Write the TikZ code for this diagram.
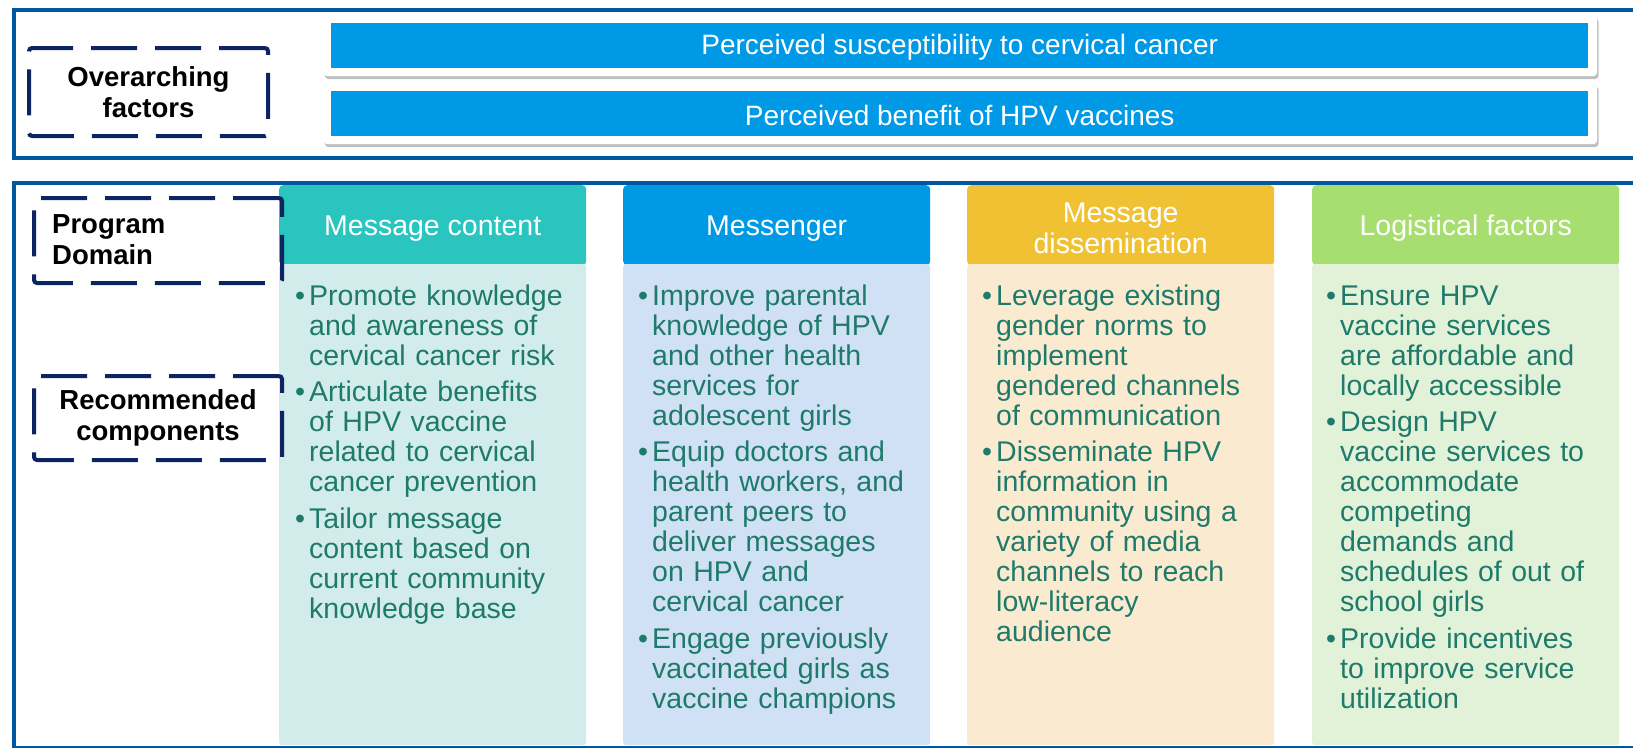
\documentclass[tikz,border=0pt]{standalone}
\usepackage{fontspec}
\setmainfont{Liberation Sans}
\usetikzlibrary{shadows}
\definecolor{frame}{RGB}{0,89,160}
\definecolor{navy}{RGB}{12,36,97}
\definecolor{barblue}{RGB}{0,153,230}
\definecolor{tealH}{RGB}{41,197,190}
\definecolor{tealB}{RGB}{210,236,235}
\definecolor{blueH}{RGB}{0,153,230}
\definecolor{blueB}{RGB}{208,224,245}
\definecolor{yelH}{RGB}{240,194,51}
\definecolor{yelB}{RGB}{250,234,207}
\definecolor{grnH}{RGB}{166,222,111}
\definecolor{grnB}{RGB}{226,242,216}
\definecolor{bodytext}{RGB}{30,122,106}
\newcommand{\bodyfont}{\fontsize{28.5pt}{30pt}\selectfont}
\newcommand{\bfirst}{\setlength{\parskip}{6.5pt}\hangindent=14pt\hangafter=1\noindent\rule{0pt}{24pt}\makebox[14pt][l]{•}}
\newcommand{\bul}{\par\hangindent=14pt\hangafter=1\noindent\makebox[14pt][l]{•}}
\begin{document}
\begin{tikzpicture}[x=1pt,y=-1pt,
  framebox/.style={draw=frame, line width=4pt, inner sep=0pt, anchor=north west},
  card/.style={fill=white, rounded corners=4pt, drop shadow={shadow xshift=1.5pt, shadow yshift=-3pt, fill=black!50, opacity=.5}, inner sep=0pt, anchor=north west, minimum width=1274pt, minimum height=61pt},
  bar/.style={fill=barblue, inner sep=0pt, anchor=north west, minimum width=1257pt, minimum height=45pt},
  bartext/.style={text=white, font=\fontsize{28pt}{30pt}\selectfont, inner sep=0pt, yshift=-2pt},
  dbox/.style={draw=navy, line width=4pt, dash pattern=on 46pt off 18pt, rounded corners=3pt, inner sep=0pt, anchor=north west},
  lbl/.style={font=\bfseries\fontsize{27.5pt}{31pt}\selectfont, text=black, inner sep=0pt},
  head/.style={rounded corners=4pt, inner sep=0pt, anchor=north west, minimum width=307pt, minimum height=80pt},
  headtext/.style={text=white, font=\fontsize{28.5pt}{30.5pt}\selectfont, align=center, inner sep=0pt, yshift=-3pt},
  body/.style={rounded corners=3pt, inner sep=0pt, anchor=north west, minimum width=307pt, minimum height=481pt},
  btext/.style={text=bodytext, text width=292pt, align=left, inner sep=0pt, anchor=north west, font=\bodyfont}
]
\useasboundingbox (0,0) rectangle (1633,747);
\clip (0,0) rectangle (1633,747);

% outer frames
\node[framebox, minimum width=1700pt, minimum height=148pt] (topframe) at (11.5,8) {};
\node[framebox, minimum width=1700pt, minimum height=565pt] (botframe) at (11.5,181) {};

% overarching factor bars
\node[card] (card1) at (323,15) {};
\node[card] (card2) at (323,83) {};
\node[bar] (bar1) at (331,23) {};
\node[bar] (bar2) at (331,91) {};
\node[bartext] (bar1t) at (bar1.center) {Perceived susceptibility to cervical cancer};
\node[bartext] (bar2t) at (bar2.center) {Perceived benefit of HPV vaccines};

% columns
\node[head, fill=tealH] (h1) at (279,185) {};
\node[head, fill=blueH] (h2) at (623,185) {};
\node[head, fill=yelH] (h3) at (967,185) {};
\node[head, fill=grnH] (h4) at (1312,185) {};
\node[headtext] (h1t) at (h1.center) {Message content};
\node[headtext] (h2t) at (h2.center) {Messenger};
\node[headtext] (h3t) at (h3.center) {Message\\dissemination};
\node[headtext] (h4t) at (h4.center) {Logistical factors};

\node[body, fill=tealB] (b1) at (279,264) {};
\node[body, fill=blueB] (b2) at (623,264) {};
\node[body, fill=yelB] (b3) at (967,264) {};
\node[body, fill=grnB] (b4) at (1312,264) {};

\node[btext] (t1) at (295,281) {\bfirst Promote knowledge\newline and awareness of\newline cervical cancer risk
\bul Articulate benefits\newline of HPV vaccine\newline related to cervical\newline cancer prevention
\bul Tailor message\newline content based on\newline current community\newline knowledge base\par};

\node[btext] (t2) at (638,281) {\bfirst Improve parental\newline knowledge of HPV\newline and other health\newline services for\newline adolescent girls
\bul Equip doctors and\newline health workers, and\newline parent peers to\newline deliver messages\newline on HPV and\newline cervical cancer
\bul Engage previously\newline vaccinated girls as\newline vaccine champions\par};

\node[btext] (t3) at (982,281) {\bfirst Leverage existing\newline gender norms to\newline implement\newline gendered channels\newline of communication
\bul Disseminate HPV\newline information in\newline community using a\newline variety of media\newline channels to reach\newline low-literacy\newline audience\par};

\node[btext] (t4) at (1326,281) {\bfirst Ensure HPV\newline vaccine services\newline are affordable and\newline locally accessible
\bul Design HPV\newline vaccine services to\newline accommodate\newline competing\newline demands and\newline schedules of out of\newline school girls
\bul Provide incentives\newline to improve service\newline utilization\par};

% dashed label boxes
\node[dbox, minimum width=239pt, minimum height=88pt] (ofbox) at (27,46) {};
\node[lbl, align=center] (oflbl) at (ofbox.center) {Overarching\\factors};
\node[dbox, minimum width=248pt, minimum height=85pt] (pdbox) at (32,196) {};
\node[lbl, align=left, anchor=west] (pdlbl) at (52,239.5) {Program\\Domain};
\node[dbox, minimum width=248pt, minimum height=84pt] (rcbox) at (32,374) {};
\node[lbl, align=center] (rclbl) at (rcbox.center) {Recommended\\components};
\end{tikzpicture}
\end{document}
